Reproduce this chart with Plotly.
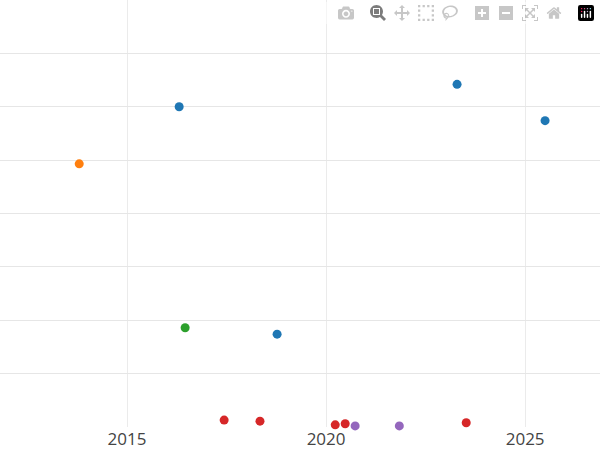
import plotly.graph_objects as go

series = {
    "blue": ([2016.31, 2023.29, 2025.50, 2018.77], [6.0, 6.42, 5.74, 1.74], "#1f77b4"),
    "orange": ([2013.80], [4.93], "#ff7f0e"),
    "green": ([2016.46], [1.86], "#2ca02c"),
    "red": ([2017.44, 2018.34, 2020.23, 2020.48, 2023.52], [0.13, 0.11, 0.04, 0.06, 0.08], "#d62728"),
    "purple": ([2020.73, 2021.84], [0.02, 0.02], "#9467bd"),
}

fig = go.Figure()
for name, (xs, ys, c) in series.items():
    fig.add_trace(go.Scatter(x=xs, y=ys, mode="markers", name=name,
                             marker=dict(color=c, size=9), cliponaxis=False))

fig.update_layout(
    width=600, height=450, showlegend=False,
    margin=dict(l=0, r=0, t=0, b=23),
    plot_bgcolor="white", paper_bgcolor="white",
    font=dict(family="Open Sans", size=17, color="#444"),
    xaxis=dict(range=[2011.81, 2026.88], tickvals=[2015, 2020, 2025],
               showgrid=True, gridcolor="#ebebeb", zeroline=False, ticks=""),
    yaxis=dict(range=[0, 8], dtick=1, showticklabels=False,
               showgrid=True, gridcolor="#e6e6e6", zeroline=False),
)
fig.write_html("out.html", post_script="document.body.style.margin='0';")
